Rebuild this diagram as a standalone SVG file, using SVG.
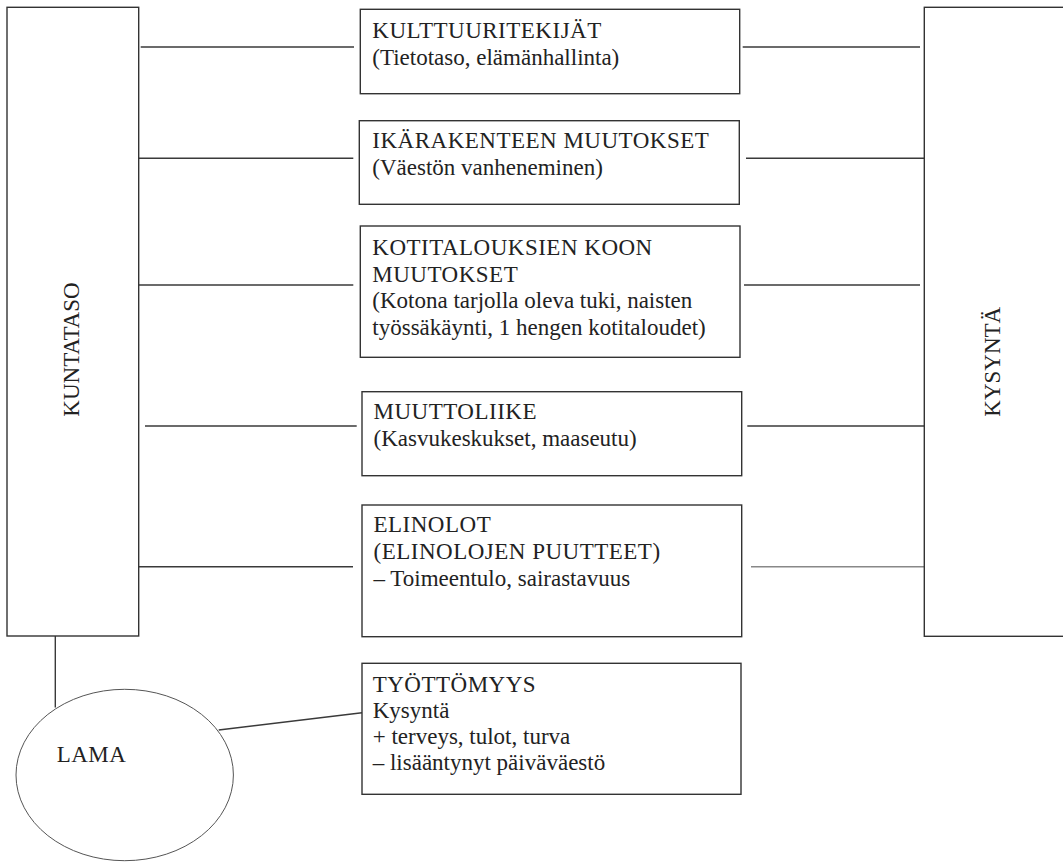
<svg xmlns="http://www.w3.org/2000/svg" width="1063" height="862" viewBox="0 0 1063 862">
<style>
  .box { fill: #fff; stroke: #333; stroke-width: 1.4; }
  .ell { fill: #fff; stroke: #555; stroke-width: 1; }
  .ln { stroke: #3a3a3a; stroke-width: 1.4; fill: none; }
  .lnl { stroke: #888; stroke-width: 1.6; fill: none; }
  text { font-family: "Liberation Serif", "Times New Roman", serif; font-size: 23px; fill: #222; }
  .c { letter-spacing: 0.5px; }
</style>
<rect width="1063" height="862" fill="#fff"/>
<g id="connectors">
  <line class="ln" x1="140.7" y1="47" x2="354" y2="47"/>
  <line class="ln" x1="742.7" y1="47" x2="920" y2="47"/>
  <line class="ln" x1="139" y1="158.3" x2="353.3" y2="158.3"/>
  <line class="ln" x1="746" y1="158.3" x2="924" y2="158.3"/>
  <line class="ln" x1="139" y1="285" x2="353.3" y2="285"/>
  <line class="ln" x1="744" y1="285" x2="920" y2="285"/>
  <line class="ln" x1="145" y1="426" x2="356.7" y2="426"/>
  <line class="ln" x1="747.3" y1="426" x2="924" y2="426"/>
  <line class="ln" x1="139" y1="566.7" x2="353" y2="566.7"/>
  <line class="lnl" x1="751" y1="566.7" x2="928.3" y2="566.7"/>
  <line class="ln" x1="55.3" y1="636" x2="55.3" y2="707.5"/>
  <line class="ln" x1="218.7" y1="730" x2="362" y2="712.7"/>
</g>
<g id="kuntataso">
  <rect class="box" x="7" y="7.3" width="131.7" height="628.7"/>
  <text transform="translate(79.3 416.7) rotate(-90)">KUNTATASO</text>
</g>
<g id="kysynta">
  <rect class="box" x="924.3" y="7.3" width="150" height="629"/>
  <text transform="translate(1000 416.7) rotate(-90)">KYSYNTÄ</text>
</g>
<g id="kulttuuritekijat">
  <rect class="box" x="360.3" y="9.3" width="379.4" height="84.4"/>
  <text class="c" x="372.3" y="37.7">KULTTUURITEKIJÄT</text>
  <text x="372.3" y="65">(Tietotaso, elämänhallinta)</text>
</g>
<g id="ikarakenne">
  <rect class="box" x="359.3" y="120.7" width="380" height="83.6"/>
  <text class="c" x="372.3" y="147.7">IKÄRAKENTEEN MUUTOKSET</text>
  <text x="372.3" y="175">(Väestön vanheneminen)</text>
</g>
<g id="kotitaloudet">
  <rect class="box" x="360.3" y="226" width="379.7" height="131.3"/>
  <text class="c" x="372.3" y="255">KOTITALOUKSIEN KOON</text>
  <text class="c" x="372.3" y="281.5">MUUTOKSET</text>
  <text x="372.3" y="308.3">(Kotona tarjolla oleva tuki, naisten</text>
  <text x="372.3" y="334.5">työssäkäynti, 1 hengen kotitaloudet)</text>
</g>
<g id="muuttoliike">
  <rect class="box" x="362" y="391.7" width="379.7" height="84"/>
  <text class="c" x="373.5" y="419.3">MUUTTOLIIKE</text>
  <text x="373.5" y="446">(Kasvukeskukset, maaseutu)</text>
</g>
<g id="elinolot">
  <rect class="box" x="362" y="505" width="379.7" height="131.7"/>
  <text class="c" x="373.5" y="532.3">ELINOLOT</text>
  <text class="c" x="373.5" y="559.3">(ELINOLOJEN PUUTTEET)</text>
  <text x="373.5" y="585.7">– Toimeentulo, sairastavuus</text>
</g>
<g id="tyottomyys">
  <rect class="box" x="362" y="663.3" width="379" height="131"/>
  <text class="c" x="372.7" y="691.7">TYÖTTÖMYYS</text>
  <text x="372.7" y="718">Kysyntä</text>
  <text x="372.7" y="744">+ terveys, tulot, turva</text>
  <text x="372.7" y="770">– lisääntynyt päiväväestö</text>
</g>
<g id="lama">
  <ellipse class="ell" cx="124.7" cy="775" rx="108.7" ry="85.7"/>
  <text class="c" x="56.7" y="761.7">LAMA</text>
</g>
</svg>
